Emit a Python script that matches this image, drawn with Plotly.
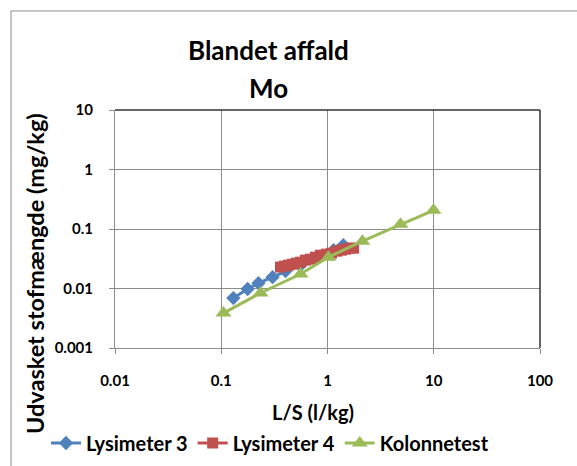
import plotly.graph_objects as go

# Data
lys3_x = [0.130, 0.177, 0.224, 0.304, 0.403, 0.557, 0.771, 1.14, 1.41]
lys3_y = [0.0069, 0.0098, 0.0123, 0.0155, 0.0196, 0.0247, 0.0324, 0.044, 0.0534]

lys4_x = [0.361, 0.394, 0.430, 0.469, 0.511, 0.557, 0.621, 0.692, 0.771, 0.859,
          0.978, 1.09, 1.22, 1.35, 1.48, 1.61, 1.76]
lys4_y = [0.0229, 0.0238, 0.0247, 0.0257, 0.0267, 0.0277, 0.0300, 0.0311, 0.0336, 0.0363,
          0.0378, 0.0392, 0.0424, 0.0441, 0.0458, 0.0476, 0.0476]

kol_x = [0.105, 0.234, 0.557, 1.02, 2.13, 4.86, 9.94]
kol_y = [0.00386, 0.0084, 0.0175, 0.0336, 0.0624, 0.120, 0.206]

x_ticks = [0.01, 0.1, 1, 10, 100]
x_tick_labels = ["0.01", "0.1", "1", "10", "100"]
y_ticks = [0.001, 0.01, 0.1, 1, 10]
y_tick_labels = ["0.001", "0.01", "0.1", "1", "10"]

FONT = "Lato"
W, H = 577, 466
L, R, T, B = 115, 37, 110, 118
PW, PH = W - L - R, H - T - B


def px_x(p):
    return (p - L) / PW


def px_y(p):
    return (H - B - p) / PH


fig = go.Figure()
fig.add_trace(go.Scatter(x=lys3_x, y=lys3_y, name="<b>Lysimeter 3</b>", mode="lines+markers",
                         line=dict(color="#4F81BD", width=3),
                         marker=dict(symbol="diamond", size=11, color="#4F81BD")))
fig.add_trace(go.Scatter(x=lys4_x, y=lys4_y, name="<b>Lysimeter 4</b>", mode="lines+markers",
                         line=dict(color="#C0504D", width=3),
                         marker=dict(symbol="square", size=11, color="#C0504D")))
fig.add_trace(go.Scatter(x=kol_x, y=kol_y, name="<b>Kolonnetest</b>", mode="lines+markers",
                         line=dict(color="#9BBB59", width=3),
                         marker=dict(symbol="triangle-up", size=14, color="#9BBB59")))

fig.update_layout(
    width=W, height=H,
    margin=dict(l=L, r=R, t=T, b=B, autoexpand=False),
    paper_bgcolor="white", plot_bgcolor="white",
    font=dict(family=FONT, color="black"),
    showlegend=True,
    legend=dict(orientation="h", x=px_x(46), xanchor="left", y=px_y(443), yanchor="middle",
                font=dict(size=20, family=FONT), itemwidth=30, tracegroupgap=0,
                bgcolor="rgba(0,0,0,0)"),
)
fig.update_xaxes(type="log", range=[-2, 2], tickvals=x_ticks, ticktext=[f"<b>{t}</b>" for t in x_tick_labels],
                 tickfont=dict(size=15), showgrid=True, gridcolor="#8C8C8C", gridwidth=1,
                 showline=True, linecolor="#8C8C8C", linewidth=1, ticks="outside", ticklen=5,
                 tickcolor="#8C8C8C", zeroline=False, automargin=False, ticklabelstandoff=14)
fig.update_yaxes(type="log", range=[-3, 1], tickvals=y_ticks, ticktext=[f"<b>{t}</b>" for t in y_tick_labels],
                 tickfont=dict(size=15), showgrid=True, gridcolor="#8C8C8C", gridwidth=1,
                 showline=True, linecolor="#8C8C8C", linewidth=1, ticks="outside", ticklen=5,
                 tickcolor="#8C8C8C", zeroline=False, automargin=False, ticklabelstandoff=13)

# titles as annotations
fig.add_annotation(text="<b>Blandet affald</b>", xref="paper", yref="paper", x=px_x(268), y=px_y(50),
                   showarrow=False, font=dict(size=26), xanchor="center", yanchor="middle")
fig.add_annotation(text="<b>Mo</b>", xref="paper", yref="paper", x=px_x(268), y=px_y(88),
                   showarrow=False, font=dict(size=26), xanchor="center", yanchor="middle")
fig.add_annotation(text="<b>L/S (l/kg)</b>", xref="paper", yref="paper", x=px_x(313), y=px_y(412),
                   showarrow=False, font=dict(size=20), xanchor="center", yanchor="middle")
fig.add_annotation(text="<b>Udvasket stofmængde (mg/kg)</b>", xref="paper", yref="paper",
                   x=px_x(35), y=px_y(274), textangle=-90,
                   showarrow=False, font=dict(size=23.5), xanchor="center", yanchor="middle")

# outer chart border
fig.add_shape(type="rect", xref="paper", yref="paper", x0=px_x(11), x1=px_x(590), y0=px_y(480), y1=px_y(11),
              line=dict(color="#8C8C8C", width=1), layer="below")
fig.add_shape(type="line", xref="paper", yref="paper", x0=0, x1=1, y0=1, y1=1,
              line=dict(color="#333333", width=1.5))
fig.add_shape(type="line", xref="paper", yref="paper", x0=1, x1=1, y0=0, y1=1,
              line=dict(color="#333333", width=1.5))

fig.write_html("out.html", config={"displayModeBar": False},
               post_script="document.body.style.margin='0';")
